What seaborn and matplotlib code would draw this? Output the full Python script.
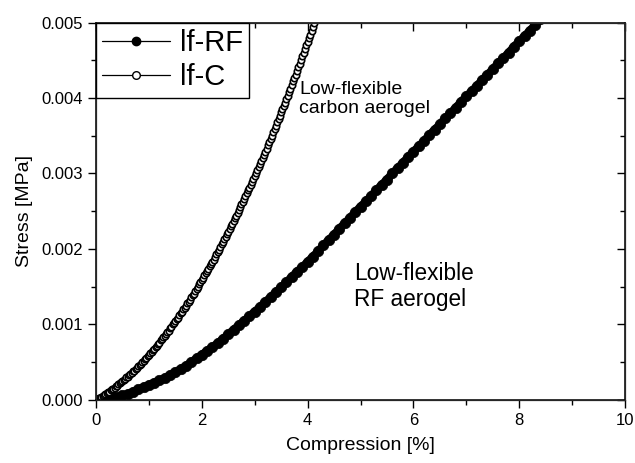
import numpy as np
import pandas as pd
import seaborn as sns
import matplotlib.pyplot as plt
from matplotlib.lines import Line2D
from matplotlib.ticker import MultipleLocator

sns.set_style("ticks")
plt.rcParams['font.family'] = ['Liberation Sans', 'DejaVu Sans']
plt.rcParams['text.color'] = 'black'
plt.rcParams['axes.labelcolor'] = 'black'
plt.rcParams['xtick.color'] = 'black'
plt.rcParams['ytick.color'] = 'black'

## lf-RF (filled symbols), compression [%] vs stress [MPa]
rf_strain = [0.0, 0.1, 0.2, 0.3, 0.4, 0.5, 0.6, 0.7, 0.8, 0.9,
             1.0, 1.1, 1.2, 1.3, 1.4, 1.5, 1.6, 1.7, 1.8, 1.9,
             2.0, 2.1, 2.2, 2.3, 2.4, 2.5, 2.6, 2.7, 2.8, 2.9,
             3.0, 3.1, 3.2, 3.3, 3.4, 3.5, 3.6, 3.7, 3.8, 3.9,
             4.0, 4.1, 4.2, 4.3, 4.4, 4.5, 4.6, 4.7, 4.8, 4.9,
             5.0, 5.1, 5.2, 5.3, 5.4, 5.5, 5.6, 5.7, 5.8, 5.9,
             6.0, 6.1, 6.2, 6.3, 6.4, 6.5, 6.6, 6.7, 6.8, 6.9,
             7.0, 7.1, 7.2, 7.3, 7.4, 7.5, 7.6, 7.7, 7.8, 7.9,
             8.0, 8.1, 8.2, 8.3, 8.4, 8.5]
rf_stress = [0.0, 0.000005, 0.00001, 0.00002, 0.00004, 0.00006, 0.00008, 0.00011, 0.00014, 0.00017,
             0.00020, 0.00023, 0.00026, 0.00029, 0.00033, 0.00037, 0.00041, 0.00045, 0.00050, 0.00055,
             0.00060, 0.00065, 0.00070, 0.00075, 0.00081, 0.00087, 0.00093, 0.00099, 0.00105, 0.00111,
             0.00117, 0.00123, 0.00130, 0.00136, 0.00143, 0.00149, 0.00156, 0.00163, 0.00170, 0.00176,
             0.00183, 0.00190, 0.00197, 0.00205, 0.00212, 0.00219, 0.00227, 0.00234, 0.00241, 0.00249,
             0.00256, 0.00263, 0.00270, 0.00278, 0.00285, 0.00292, 0.00300, 0.00307, 0.00314, 0.00322,
             0.00329, 0.00336, 0.00343, 0.00351, 0.00358, 0.00365, 0.00373, 0.00380, 0.00387, 0.00395,
             0.00402, 0.00409, 0.00416, 0.00424, 0.00431, 0.00438, 0.00446, 0.00453, 0.00460, 0.00468,
             0.00475, 0.00482, 0.00489, 0.00497, 0.00504, 0.00511]

## lf-C (open symbols)
c_strain = [0.000, 0.025, 0.050, 0.075, 0.100, 0.125, 0.150, 0.175, 0.200, 0.225,
            0.250, 0.275, 0.300, 0.325, 0.350, 0.375, 0.400, 0.425, 0.450, 0.475,
            0.500, 0.525, 0.550, 0.575, 0.600, 0.625, 0.650, 0.675, 0.700, 0.725,
            0.750, 0.775, 0.800, 0.825, 0.850, 0.875, 0.900, 0.925, 0.950, 0.975,
            1.000, 1.025, 1.050, 1.075, 1.100, 1.125, 1.150, 1.175, 1.200, 1.225,
            1.250, 1.275, 1.300, 1.325, 1.350, 1.375, 1.400, 1.425, 1.450, 1.475,
            1.500, 1.525, 1.550, 1.575, 1.600, 1.625, 1.650, 1.675, 1.700, 1.725,
            1.750, 1.775, 1.800, 1.825, 1.850, 1.875, 1.900, 1.925, 1.950, 1.975,
            2.000, 2.025, 2.050, 2.075, 2.100, 2.125, 2.150, 2.175, 2.200, 2.225,
            2.250, 2.275, 2.300, 2.325, 2.350, 2.375, 2.400, 2.425, 2.450, 2.475,
            2.500, 2.525, 2.550, 2.575, 2.600, 2.625, 2.650, 2.675, 2.700, 2.725,
            2.750, 2.775, 2.800, 2.825, 2.850, 2.875, 2.900, 2.925, 2.950, 2.975,
            3.000, 3.025, 3.050, 3.075, 3.100, 3.125, 3.150, 3.175, 3.200, 3.225,
            3.250, 3.275, 3.300, 3.325, 3.350, 3.375, 3.400, 3.425, 3.450, 3.475,
            3.500, 3.525, 3.550, 3.575, 3.600, 3.625, 3.650, 3.675, 3.700, 3.725,
            3.750, 3.775, 3.800, 3.825, 3.850, 3.875, 3.900, 3.925, 3.950, 3.975,
            4.000, 4.025, 4.050, 4.075, 4.100, 4.125, 4.150, 4.175, 4.200]
c_stress = [0.0, 0.00001, 0.00002, 0.00003, 0.00004, 0.00005, 0.00006, 0.00008, 0.00009, 0.00010,
            0.00011, 0.00013, 0.00014, 0.00015, 0.00016, 0.00018, 0.00019, 0.00021, 0.00022, 0.00024,
            0.00025, 0.00027, 0.00028, 0.00030, 0.00031, 0.00033, 0.00034, 0.00036, 0.00038, 0.00039,
            0.00041, 0.00043, 0.00045, 0.00047, 0.00048, 0.00050, 0.00052, 0.00054, 0.00056, 0.00058,
            0.00060, 0.00062, 0.00064, 0.00066, 0.00068, 0.00070, 0.00072, 0.00074, 0.00076, 0.00079,
            0.00081, 0.00083, 0.00085, 0.00088, 0.00090, 0.00092, 0.00095, 0.00097, 0.00100, 0.00102,
            0.00104, 0.00107, 0.00109, 0.00112, 0.00115, 0.00117, 0.00120, 0.00122, 0.00125, 0.00128,
            0.00130, 0.00133, 0.00136, 0.00139, 0.00141, 0.00144, 0.00147, 0.00150, 0.00153, 0.00156,
            0.00159, 0.00162, 0.00165, 0.00168, 0.00171, 0.00174, 0.00177, 0.00180, 0.00183, 0.00186,
            0.00190, 0.00193, 0.00196, 0.00199, 0.00203, 0.00206, 0.00209, 0.00213, 0.00216, 0.00220,
            0.00223, 0.00226, 0.00230, 0.00233, 0.00237, 0.00241, 0.00244, 0.00248, 0.00251, 0.00255,
            0.00259, 0.00262, 0.00266, 0.00270, 0.00274, 0.00278, 0.00281, 0.00285, 0.00289, 0.00293,
            0.00297, 0.00301, 0.00305, 0.00309, 0.00313, 0.00317, 0.00321, 0.00325, 0.00329, 0.00333,
            0.00338, 0.00342, 0.00346, 0.00350, 0.00355, 0.00359, 0.00363, 0.00368, 0.00372, 0.00376,
            0.00381, 0.00385, 0.00390, 0.00394, 0.00399, 0.00403, 0.00408, 0.00412, 0.00417, 0.00422,
            0.00426, 0.00431, 0.00436, 0.00441, 0.00445, 0.00450, 0.00455, 0.00460, 0.00465, 0.00470,
            0.00474, 0.00479, 0.00484, 0.00489, 0.00494, 0.00499, 0.00504, 0.00509, 0.00515]

series_labels = ['lf-RF', 'lf-C']

df_rf = pd.DataFrame({'Compression': rf_strain, 'Stress': rf_stress})
df_c = pd.DataFrame({'Compression': c_strain, 'Stress': c_stress})

fig = plt.figure(figsize=(6.35, 4.63), dpi=100)
ax = fig.add_axes([0.1512, 0.1361, 0.8331, 0.8153])

sns.lineplot(data=df_rf, x='Compression', y='Stress', ax=ax, color='black',
             linewidth=5.8, marker='o', markersize=7.5, markerfacecolor='black',
             markeredgecolor='black', markeredgewidth=0.5,
             sort=False, estimator=None)
sns.lineplot(data=df_c, x='Compression', y='Stress', ax=ax, color='black',
             linewidth=1.0, marker='o', markersize=4.6, markerfacecolor='white',
             markeredgecolor='black', markeredgewidth=1.2,
             sort=False, estimator=None)

ax.set_xlim(0, 10)
ax.set_ylim(0, 0.005)
ax.xaxis.set_major_locator(MultipleLocator(2))
ax.xaxis.set_minor_locator(MultipleLocator(1))
ax.yaxis.set_major_locator(MultipleLocator(0.001))
ax.yaxis.set_minor_locator(MultipleLocator(0.0005))
ax.yaxis.set_major_formatter(plt.FormatStrFormatter('%.3f'))
ax.xaxis.set_major_formatter(plt.FormatStrFormatter('%d'))

ax.tick_params(which='both', direction='out', width=1.0, labelsize=12, colors='black')
ax.tick_params(which='major', length=5.5, pad=4)
ax.tick_params(which='minor', length=3.5)
for spine in ax.spines.values():
    spine.set_linewidth(1.1)
    spine.set_color('black')

## inward ticks on the right and top frame
ax2 = ax.twinx()
ax2.set_ylim(ax.get_ylim())
ax2.yaxis.set_major_locator(MultipleLocator(0.001))
ax2.yaxis.set_minor_locator(MultipleLocator(0.0005))
ax2.tick_params(which='both', direction='in', labelright=False, width=1.0)
ax2.tick_params(which='major', length=5.5)
ax2.tick_params(which='minor', length=3.5)
ax3 = ax.twiny()
ax3.set_xlim(ax.get_xlim())
ax3.xaxis.set_major_locator(MultipleLocator(2))
ax3.xaxis.set_minor_locator(MultipleLocator(1))
ax3.tick_params(which='both', direction='in', labeltop=False, width=1.0)
ax3.tick_params(which='major', length=5.5)
ax3.tick_params(which='minor', length=3.5)

ax.set_xlabel('Compression [%]', fontsize=14, labelpad=6)
ax.set_ylabel('Stress [MPa]', fontsize=14, labelpad=6)

ax.text(3.84, 0.00423, 'Low-flexible\ncarbon aerogel', fontsize=14,
        ha='left', va='top', linespacing=1.2)
ax.text(4.87, 0.00183, 'Low-flexible\nRF aerogel', fontsize=16.3,
        ha='left', va='top', linespacing=1.2)

handles = [Line2D([], [], color='black', linewidth=0.9, marker='o', markersize=6,
                  markerfacecolor='black', markeredgecolor='black'),
           Line2D([], [], color='black', linewidth=0.9, marker='o', markersize=5.5,
                  markerfacecolor='white', markeredgecolor='black')]
leg = ax3.legend(handles, series_labels, loc='upper left', fontsize=21,
                 frameon=True, fancybox=False, framealpha=1, edgecolor='black',
                 borderaxespad=0, borderpad=0.22, handlelength=2.3,
                 handletextpad=0.35, labelspacing=0.22)
leg.get_frame().set_linewidth(1.0)

fig.savefig('out.png', dpi=100)
